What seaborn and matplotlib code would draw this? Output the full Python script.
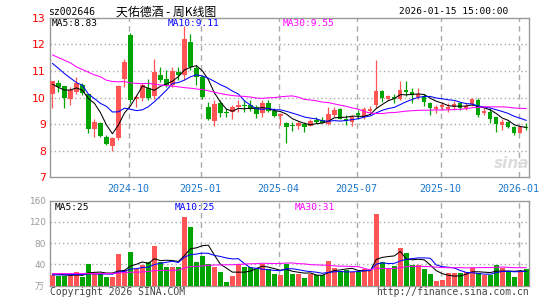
import numpy as np
import pandas as pd
import seaborn as sns
import matplotlib
matplotlib.use('Agg')
import matplotlib.pyplot as plt

# weekly candles, 2024-07 .. 2026-01
opens = [10.13, 10.55, 10.43, 9.94, 10.21, 10.46, 10.13, 8.81, 9.05, 8.53,
         8.18, 8.49, 10.71, 12.34, 9.93, 9.99, 10.34, 10.05, 10.84, 10.71,
         10.46, 10.96, 10.84, 12.09, 11.09, 10.78, 9.63, 9.13, 9.78, 9.46,
         9.46, 9.63, 9.71, 9.72, 9.63, 9.40, 9.78, 9.50, 9.31, 9.03,
         8.96, 8.94, 8.99, 8.94, 9.15, 9.15, 9.00, 9.34, 9.55, 9.18,
         9.09, 9.40, 9.25, 9.50, 9.71, 10.25, 9.96, 10.00, 9.93, 10.28,
         10.21, 10.03, 10.06, 9.80, 9.58, 9.65, 9.58, 9.63, 9.78, 9.59,
         9.75, 9.90, 9.40, 9.46, 9.25, 8.96, 9.08, 8.90, 8.68, 8.88]
highs = [10.62, 10.65, 10.45, 10.40, 10.78, 10.55, 10.15, 9.18, 9.08, 8.59,
         8.52, 10.46, 11.46, 12.43, 10.09, 10.53, 10.68, 11.46, 11.15, 11.05,
         11.13, 11.15, 12.68, 12.40, 11.21, 10.84, 9.84, 9.90, 9.90, 9.59,
         9.71, 9.90, 9.90, 9.90, 9.71, 9.90, 9.90, 9.59, 9.40, 9.09,
         9.09, 9.11, 9.09, 9.18, 9.25, 9.28, 9.63, 9.65, 9.59, 9.34,
         9.34, 9.53, 9.63, 9.68, 11.40, 10.30, 10.09, 10.15, 10.61, 10.61,
         10.34, 10.34, 10.13, 9.84, 9.71, 9.84, 9.78, 9.88, 9.80, 9.78,
         10.00, 9.99, 9.59, 9.59, 9.28, 9.18, 9.13, 8.93, 8.90, 9.03]
lows = [9.59, 10.21, 9.59, 9.71, 10.15, 10.10, 8.65, 8.52, 8.50, 8.21,
        8.00, 8.42, 10.40, 9.78, 9.65, 9.88, 9.90, 9.93, 10.59, 10.40,
        10.40, 10.65, 10.65, 11.03, 10.46, 9.96, 9.15, 8.93, 9.25, 9.28,
        9.21, 9.46, 9.46, 9.50, 9.24, 9.28, 9.46, 9.28, 8.96, 8.30,
        8.74, 8.80, 8.71, 8.93, 9.03, 9.03, 8.96, 9.28, 9.19, 8.96,
        8.93, 9.18, 9.18, 9.40, 9.59, 9.84, 9.90, 9.80, 9.90, 10.05,
        9.78, 9.96, 9.68, 9.34, 9.40, 9.53, 9.46, 9.53, 9.53, 9.53,
        9.68, 9.28, 9.34, 9.03, 8.71, 8.78, 8.84, 8.59, 8.65, 8.78]
closes = [10.61, 10.38, 9.98, 10.28, 10.55, 10.18, 8.81, 9.09, 8.55, 8.25,
          8.49, 10.44, 11.34, 9.90, 10.03, 10.46, 10.00, 10.96, 10.65, 10.46,
          11.00, 10.84, 12.21, 11.15, 10.78, 10.03, 9.18, 9.75, 9.43, 9.43,
          9.63, 9.71, 9.68, 9.55, 9.38, 9.80, 9.50, 9.31, 9.38, 8.90,
          8.93, 9.03, 8.90, 9.13, 9.09, 9.05, 9.38, 9.53, 9.21, 9.13,
          9.25, 9.34, 9.55, 9.55, 10.25, 10.00, 10.05, 9.96, 10.28, 10.21,
          10.09, 10.13, 9.84, 9.59, 9.65, 9.73, 9.65, 9.75, 9.59, 9.68,
          9.94, 9.34, 9.50, 9.21, 9.00, 9.09, 8.90, 8.68, 8.88, 8.84]
volumes = [20, 18, 18, 18.5, 25, 16, 40.6, 24, 21, 16,
           16, 59.5, 29.3, 63.3, 32, 38, 45, 74.7, 45, 35.5,
           35.5, 35.5, 129.5, 110.6, 44, 55.8, 40.6, 35.6, 25.5, 6.6,
           18, 40, 35.6, 35.6, 31.2, 40, 31, 21.7, 20, 40,
           21.7, 21.7, 13.5, 21.7, 19.8, 19.8, 46.3, 33.7, 27.4, 29.3,
           24.9, 26.1, 31.2, 29.3, 135, 43.8, 33.7, 37.5, 71.5, 61.4,
           38.7, 38.7, 31.2, 22.4, 8.5, 11, 23.6, 23.6, 23.6, 24.9,
           33.7, 23.6, 19.8, 19.8, 38.7, 33.7, 24.9, 16.7, 26.1, 31.2]

# moving-average values before a full window exists (weeks before the chart start)
ma5_head = [10.5, 10.38, 10.28, 10.28]
ma10_head = [11.28, 11.1, 10.9, 10.73, 10.56, 10.46, 10.13, 9.96, 9.78]
ma30_head = [11.6, 11.5, 11.4, 11.3, 11.15, 11.05, 10.95, 10.85, 10.78, 10.65,
             10.6, 10.59, 10.6, 10.55, 10.53, 10.52, 10.53, 10.5, 10.47, 10.45,
             10.43, 10.4, 10.37, 10.35, 10.32, 10.3, 10.25, 10.2, 10.15]
vma5_head = [21.7, 21.7, 20, 19]
vma10_head = [20, 20, 20, 20.5, 21, 21, 22, 22, 21.5]
vma30_head = [22.4, 22.4, 22.5, 22.5, 22.5, 22.5, 22.6, 22.6, 22.6, 22.6,
              22.8, 23.5, 24.5, 25, 25, 25.5, 26.5, 28, 28.5, 28.5,
              28.7, 29, 33, 35.5, 36, 37, 38, 38.7, 38.7]

tick_labels = ['2024-10', '2025-01', '2025-04', '2025-07', '2025-10', '2026-01']
tick_weeks = [13, 25, 38, 51, 65, 78]  # first weekly candle of each month

price_legend = ['MA5:8.83', 'MA10:9.11', 'MA30:9.55']
vol_legend = ['MA5:25', 'MA10:25', 'MA30:31']

df = pd.DataFrame({'open': opens, 'high': highs, 'low': lows,
                   'close': closes, 'vol': volumes})
df['idx'] = np.arange(len(df))


def moving(series, n, head):
    m = series.rolling(n).mean()
    m.iloc[:n - 1] = head
    return m


df['ma5'] = moving(df['close'], 5, ma5_head)
df['ma10'] = moving(df['close'], 10, ma10_head)
df['ma30'] = moving(df['close'], 30, ma30_head)
df['vma5'] = moving(df['vol'], 5, vma5_head)
df['vma10'] = moving(df['vol'], 10, vma10_head)
df['vma30'] = moving(df['vol'], 30, vma30_head)

RED = '#ff5555'
GREEN = '#00a400'
MA_COLORS = ['black', '#0000ff', '#ff00ff']

sns.set_style('white')
plt.rcParams['font.family'] = ['DejaVu Sans Mono', 'Noto Sans CJK SC']

W, H = 545, 300
fig = plt.figure(figsize=(W / 100, H / 100), dpi=100)
ax = fig.add_axes([50 / W, 1 - 177.4 / H, 479 / W, (177.4 - 17.6) / H])
axv = fig.add_axes([50 / W, 1 - 285.5 / H, 479 / W, (285.5 - 200.7) / H])

up = df['close'] >= df['open']
colors = np.where(up, RED, GREEN)

# candles
ax.vlines(df['idx'], df['low'], df['high'], colors=colors, lw=0.9, zorder=3)
body_lo = np.minimum(df['open'], df['close'])
body_h = np.maximum((df['close'] - df['open']).abs(), 0.035)
ax.bar(df['idx'], body_h, bottom=body_lo, width=0.72, color=colors,
       linewidth=0, zorder=4)

for col, c in zip(['ma5', 'ma10', 'ma30'], MA_COLORS):
    sns.lineplot(x=df['idx'], y=df[col], ax=ax, color=c, lw=0.75, zorder=5)

# volume
axv.bar(df['idx'], df['vol'], width=0.82, color=colors, linewidth=0, zorder=3)
for col, c in zip(['vma5', 'vma10', 'vma30'], MA_COLORS):
    sns.lineplot(x=df['idx'], y=df[col], ax=axv, color=c, lw=0.75, zorder=5)

tick_pos = [w - 0.3 for w in tick_weeks]
for a in (ax, axv):
    a.set_xlim(-0.4, 79.45)
    a.set_xticks(tick_pos)
    a.set_xlabel('')
    a.set_ylabel('')
    a.grid(False)
    for x in tick_pos:
        a.axvline(x, color='#aaaaaa', ls=(0, (4, 3)), lw=1, zorder=1)
    for s in a.spines.values():
        s.set_color('#999999')
        s.set_linewidth(1)
    a.tick_params(length=0)

ax.set_ylim(7, 13)
ax.set_yticks(range(7, 14))
for yv in range(8, 13):
    ax.axhline(yv, color='#aaaaaa', ls=(0, (1, 2)), lw=1, zorder=1)
ax.set_yticklabels([str(v) for v in range(7, 14)], color='#ff0000',
                   fontsize=7.8, family='DejaVu Sans')
ax.set_xticklabels(tick_labels, color='#1a75c8', fontsize=7.2)
ax.tick_params(axis='x', pad=5)
ax.tick_params(axis='y', pad=3)

axv.set_ylim(0, 160)
axv.set_yticks([40, 80, 120, 160])
for yv in [40, 80, 120]:
    axv.axhline(yv, color='#aaaaaa', ls=(0, (1, 2)), lw=1, zorder=1)
axv.set_yticklabels(['40', '80', '120', '160'], color='#999999',
                    fontsize=6.4, family='DejaVu Sans')
axv.set_xticklabels([])
axv.tick_params(axis='y', pad=3)


def ftext(x, y, s, **kw):
    fig.text(x / W, 1 - y / H, s, va='center', **kw)


ftext(48, 12, 'sz002646', fontsize=7, color='black')
ftext(115.5, 12, '天佑德酒 - 周K线图', fontsize=8.6, color='black',
      family=['Noto Sans CJK SC', 'DejaVu Sans'])
ftext(508, 12, '2026-01-15 15:00:00', fontsize=6.8, color='black', ha='right')

for x, s, c in zip([52, 167.5, 282.5], price_legend, MA_COLORS):
    ftext(x, 24, s, fontsize=6.8, color=c)
for x, s, c in zip([54.5, 175, 295], vol_legend, MA_COLORS):
    ftext(x, 207.5, s, fontsize=6.8, color=c)

ftext(44, 287.5, '万', fontsize=6.5, color='#999999', ha='right',
      family=['Noto Sans CJK SC', 'DejaVu Sans'])
ftext(50, 292, 'Copyright 2026 SINA.COM', fontsize=7, color='#444444')
ftext(529, 292, 'http://finance.sina.com.cn', fontsize=7, color='#444444',
      ha='right')
ftext(512, 164, 'sina', fontsize=11, color='#dcdcdc', ha='center',
      style='italic', weight='bold', family='DejaVu Sans')

fig.savefig('out.png', dpi=100)
